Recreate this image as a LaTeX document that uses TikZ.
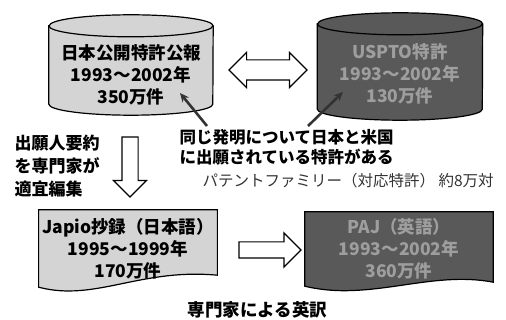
\documentclass[tikz,border=0pt]{standalone}
\usepackage{fontspec}
\newfontfamily\jp{Noto Sans CJK JP}
\usetikzlibrary{shapes.arrows,arrows.meta,backgrounds}

\definecolor{lightdb}{gray}{0.83}
\definecolor{darkdb}{gray}{0.35}
\definecolor{fadetext}{gray}{0.62}

\tikzset{
  dbbody/.style={minimum width=164pt,inner sep=0pt},
  dbline/.style={line width=1.2pt},
  boxtext/.style={align=center,font=\jp\bfseries\fontsize{17.5}{22}\selectfont},
  blockarrow/.style={draw,single arrow,single arrow head extend=8.5pt,single arrow head indent=0pt,line width=1.2pt,fill=white,inner xsep=0pt,inner ysep=7.5pt},
  pointer/.style={line width=2.6pt,black!80,-{Stealth[length=9pt,width=8pt]}},
  note/.style={font=\jp\bfseries\fontsize{16.5}{20}\selectfont,align=left}
}

\begin{document}
\begin{tikzpicture}[x=1pt,y=1pt,node distance=50pt]
\useasboundingbox (0,0) rectangle (506,-320);

% databases
\node[dbbody,minimum height=78pt] (jp_db) at (131,-65) {};
\node[dbbody,minimum height=85pt,minimum width=165pt,right of = jp_db, node distance = 269pt,yshift=-1.5pt] (us_db) {};
\draw[dbline,fill=lightdb] (jp_db.north west) -- (jp_db.south west) arc[start angle=180,end angle=360,x radius=82pt,y radius=11pt]
  -- (jp_db.north east) arc[start angle=0,end angle=180,x radius=82pt,y radius=11pt] -- cycle;
\draw[dbline] (jp_db.north west) arc[start angle=180,end angle=360,x radius=82pt,y radius=11pt];
\draw[dbline,fill=darkdb] (us_db.north west) -- (us_db.south west) arc[start angle=180,end angle=360,x radius=82.5pt,y radius=11pt]
  -- (us_db.north east) arc[start angle=0,end angle=180,x radius=82.5pt,y radius=11pt] -- cycle;
\draw[dbline] (us_db.north west) arc[start angle=180,end angle=360,x radius=82.5pt,y radius=11pt];
\node[boxtext,below of = jp_db, node distance = 10pt] (jp_db_text) {日本公開特許公報\\1993～2002年\\350万件};
\node[boxtext,fadetext,below of = us_db, node distance = 7pt] (us_db_text) {USPTO特許\\1993～2002年\\130万件};
\node[draw,double arrow,double arrow head extend=7.5pt,double arrow head indent=0pt,line width=1.2pt,inner xsep=0pt,inner ysep=9.5pt,minimum height=78pt] (link) at (268,-70) {};

% same invention
\node[note,anchor=west] (same) at (176,-147) {同じ発明について日本と米国\\に出願されている特許がある};
\node[font=\jp\fontsize{15.5}{18}\selectfont,black!80,anchor=west] (family) at (199,-181) {パテントファミリー（対応特許） 約8万対};
\coordinate (jp_in) at (180,-93);
\coordinate (us_in) at (343,-92);
\draw[pointer] (207,-126) -- (jp_in);
\draw[pointer] (308,-126) -- (us_in);

% abstracts
\node[font=\jp\bfseries\fontsize{17}{23}\selectfont,align=left,anchor=west] (editing) at (11,-166) {出願人要約\\を専門家が\\適宜編集};
\node[blockarrow,rotate=-90,minimum height=60pt] (down) at (130,-163) {};

\node[boxtext,minimum width=174pt,minimum height=77pt] (japio) at (128,-248.5) {Japio抄録（日本語）\\1995～1999年\\170万件};
\node[boxtext,fadetext,minimum width=188pt,minimum height=74pt] (paj) at (399,-249) {PAJ（英語）\\1993～2002年\\360万件};
\begin{pgfonlayer}{background}
\draw[dbline,fill=lightdb] (japio.north west) -- (japio.north east) -- ([yshift=12pt]japio.south east)
  .. controls (140,-268) and (95,-302) .. (japio.south west) -- cycle;
\draw[dbline,fill=darkdb] (paj.north west) -- (paj.north east) -- ([yshift=4pt]paj.south east)
  .. controls (430,-270) and (370,-302) .. (paj.south west) -- cycle;
\end{pgfonlayer}
\node[blockarrow,single arrow head extend=9pt,minimum height=62pt] (translate) at (266,-250) {};
\node[font=\jp\bfseries\fontsize{17.5}{20}\selectfont,anchor=west] (english) at (184,-310) {専門家による英訳};

\end{tikzpicture}
\end{document}
